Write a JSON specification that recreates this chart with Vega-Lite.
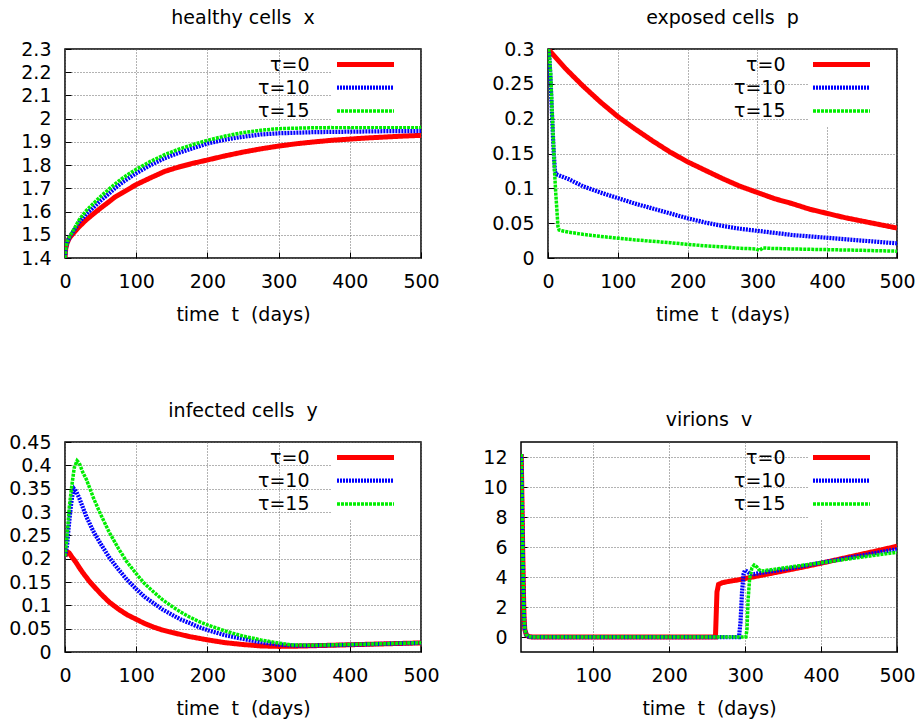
{
  "$schema": "https://vega.github.io/schema/vega-lite/v6.json",
  "padding": {"left": 7, "top": 8, "right": 0, "bottom": 0},
  "background": "white",
  "config": {
    "font": "DejaVu Sans",
    "view": {"stroke": "#000", "strokeWidth": 1.5},
    "axis": {
      "labelFont": "DejaVu Sans", "labelFontSize": 19, "labelColor": "#000",
      "titleFont": "DejaVu Sans", "titleFontSize": 19, "titleFontWeight": "normal", "titleColor": "#000",
      "domain": false, "ticks": true, "tickSize": -6, "tickColor": "#000", "tickWidth": 1,
      "labelPadding": 20, "titlePadding": 14, "labelFlush": false,
      "grid": true, "gridColor": "#666", "gridDash": [1, 2], "gridWidth": 1,
      "labelOverlap": false
    },
    "title": {"font": "DejaVu Sans", "fontSize": 19, "fontWeight": "normal", "color": "#000", "anchor": "middle", "frame": "group", "offset": 12},
    "legend": {
      "orient": "top-right", "offset": 1, "padding": 4.5,
      "labelFont": "DejaVu Sans", "labelFontSize": 19, "labelColor": "#000",
      "symbolType": "M-4,0H4", "symbolSize": 203, "symbolOffset": 19,
      "labelAlign": "right", "labelOffset": -66, "rowPadding": 3.5,
      "titleOrient": "right", "titlePadding": 12, "titleFontSize": 19, "titleFont": "DejaVu Sans",
      "fillColor": "#ffffff", "labelLimit": 300
    },
    "line": {"clip": true}
  },
  "datasets": {
    "hx": [
      {"t":0,"tau":"τ=0","val":1.40},{"t":1,"tau":"τ=0","val":1.44},{"t":3,"tau":"τ=0","val":1.465},{"t":6,"tau":"τ=0","val":1.485},{"t":10,"tau":"τ=0","val":1.50},{"t":20,"tau":"τ=0","val":1.535},{"t":30,"tau":"τ=0","val":1.565},{"t":40,"tau":"τ=0","val":1.59},{"t":50,"tau":"τ=0","val":1.615},{"t":60,"tau":"τ=0","val":1.638},{"t":70,"tau":"τ=0","val":1.662},{"t":80,"tau":"τ=0","val":1.68},{"t":90,"tau":"τ=0","val":1.698},{"t":100,"tau":"τ=0","val":1.716},{"t":120,"tau":"τ=0","val":1.745},{"t":140,"tau":"τ=0","val":1.773},{"t":160,"tau":"τ=0","val":1.792},{"t":180,"tau":"τ=0","val":1.808},{"t":200,"tau":"τ=0","val":1.822},{"t":225,"tau":"τ=0","val":1.84},{"t":250,"tau":"τ=0","val":1.856},{"t":275,"tau":"τ=0","val":1.87},{"t":300,"tau":"τ=0","val":1.882},{"t":325,"tau":"τ=0","val":1.892},{"t":350,"tau":"τ=0","val":1.9},{"t":375,"tau":"τ=0","val":1.907},{"t":400,"tau":"τ=0","val":1.912},{"t":425,"tau":"τ=0","val":1.917},{"t":450,"tau":"τ=0","val":1.921},{"t":475,"tau":"τ=0","val":1.925},{"t":500,"tau":"τ=0","val":1.928},
      {"t":0,"tau":"τ=10","val":1.40},{"t":1,"tau":"τ=10","val":1.44},{"t":3,"tau":"τ=10","val":1.465},{"t":6,"tau":"τ=10","val":1.488},{"t":10,"tau":"τ=10","val":1.507},{"t":20,"tau":"τ=10","val":1.555},{"t":30,"tau":"τ=10","val":1.59},{"t":40,"tau":"τ=10","val":1.618},{"t":50,"tau":"τ=10","val":1.647},{"t":60,"tau":"τ=10","val":1.673},{"t":70,"tau":"τ=10","val":1.70},{"t":80,"tau":"τ=10","val":1.724},{"t":90,"tau":"τ=10","val":1.745},{"t":100,"tau":"τ=10","val":1.765},{"t":120,"tau":"τ=10","val":1.80},{"t":140,"tau":"τ=10","val":1.83},{"t":160,"tau":"τ=10","val":1.853},{"t":180,"tau":"τ=10","val":1.873},{"t":200,"tau":"τ=10","val":1.893},{"t":225,"tau":"τ=10","val":1.91},{"t":250,"tau":"τ=10","val":1.922},{"t":275,"tau":"τ=10","val":1.932},{"t":300,"tau":"τ=10","val":1.937},{"t":350,"tau":"τ=10","val":1.942},{"t":400,"tau":"τ=10","val":1.944},{"t":450,"tau":"τ=10","val":1.946},{"t":500,"tau":"τ=10","val":1.947},
      {"t":0,"tau":"τ=15","val":1.40},{"t":1,"tau":"τ=15","val":1.44},{"t":3,"tau":"τ=15","val":1.47},{"t":6,"tau":"τ=15","val":1.49},{"t":10,"tau":"τ=15","val":1.51},{"t":20,"tau":"τ=15","val":1.565},{"t":30,"tau":"τ=15","val":1.605},{"t":40,"tau":"τ=15","val":1.635},{"t":50,"tau":"τ=15","val":1.665},{"t":60,"tau":"τ=15","val":1.692},{"t":70,"tau":"τ=15","val":1.718},{"t":80,"tau":"τ=15","val":1.742},{"t":90,"tau":"τ=15","val":1.763},{"t":100,"tau":"τ=15","val":1.782},{"t":120,"tau":"τ=15","val":1.816},{"t":140,"tau":"τ=15","val":1.845},{"t":160,"tau":"τ=15","val":1.869},{"t":180,"tau":"τ=15","val":1.889},{"t":200,"tau":"τ=15","val":1.907},{"t":225,"tau":"τ=15","val":1.925},{"t":250,"tau":"τ=15","val":1.94},{"t":275,"tau":"τ=15","val":1.95},{"t":300,"tau":"τ=15","val":1.957},{"t":350,"tau":"τ=15","val":1.961},{"t":400,"tau":"τ=15","val":1.962},{"t":450,"tau":"τ=15","val":1.963},{"t":500,"tau":"τ=15","val":1.963}
    ],
    "hp": [
      {"t":0,"tau":"τ=0","val":0.300},{"t":25,"tau":"τ=0","val":0.272},{"t":50,"tau":"τ=0","val":0.247},{"t":75,"tau":"τ=0","val":0.224},{"t":100,"tau":"τ=0","val":0.203},{"t":125,"tau":"τ=0","val":0.185},{"t":150,"tau":"τ=0","val":0.168},{"t":175,"tau":"τ=0","val":0.152},{"t":200,"tau":"τ=0","val":0.138},{"t":225,"tau":"τ=0","val":0.126},{"t":250,"tau":"τ=0","val":0.114},{"t":275,"tau":"τ=0","val":0.103},{"t":300,"tau":"τ=0","val":0.094},{"t":325,"tau":"τ=0","val":0.085},{"t":350,"tau":"τ=0","val":0.078},{"t":375,"tau":"τ=0","val":0.070},{"t":400,"tau":"τ=0","val":0.064},{"t":425,"tau":"τ=0","val":0.058},{"t":450,"tau":"τ=0","val":0.053},{"t":475,"tau":"τ=0","val":0.048},{"t":500,"tau":"τ=0","val":0.043},
      {"t":0,"tau":"τ=10","val":0.300},{"t":1.5,"tau":"τ=10","val":0.295},{"t":3.5,"tau":"τ=10","val":0.26},{"t":6,"tau":"τ=10","val":0.20},{"t":8,"tau":"τ=10","val":0.155},{"t":10,"tau":"τ=10","val":0.124},{"t":12,"tau":"τ=10","val":0.12},{"t":20,"tau":"τ=10","val":0.117},{"t":30,"tau":"τ=10","val":0.113},{"t":50,"tau":"τ=10","val":0.103},{"t":75,"tau":"τ=10","val":0.094},{"t":100,"tau":"τ=10","val":0.086},{"t":125,"tau":"τ=10","val":0.078},{"t":150,"tau":"τ=10","val":0.071},{"t":175,"tau":"τ=10","val":0.064},{"t":200,"tau":"τ=10","val":0.057},{"t":225,"tau":"τ=10","val":0.051},{"t":250,"tau":"τ=10","val":0.046},{"t":275,"tau":"τ=10","val":0.042},{"t":300,"tau":"τ=10","val":0.039},{"t":325,"tau":"τ=10","val":0.036},{"t":350,"tau":"τ=10","val":0.033},{"t":375,"tau":"τ=10","val":0.031},{"t":400,"tau":"τ=10","val":0.029},{"t":425,"tau":"τ=10","val":0.027},{"t":450,"tau":"τ=10","val":0.025},{"t":475,"tau":"τ=10","val":0.023},{"t":500,"tau":"τ=10","val":0.021},
      {"t":0,"tau":"τ=15","val":0.300},{"t":1.5,"tau":"τ=15","val":0.297},{"t":3.8,"tau":"τ=15","val":0.265},{"t":5.5,"tau":"τ=15","val":0.22},{"t":7.6,"tau":"τ=15","val":0.17},{"t":9.5,"tau":"τ=15","val":0.122},{"t":11,"tau":"τ=15","val":0.095},{"t":12.4,"tau":"τ=15","val":0.074},{"t":14.3,"tau":"τ=15","val":0.045},{"t":16,"tau":"τ=15","val":0.040},{"t":20,"tau":"τ=15","val":0.039},{"t":30,"tau":"τ=15","val":0.037},{"t":50,"tau":"τ=15","val":0.034},{"t":75,"tau":"τ=15","val":0.031},{"t":100,"tau":"τ=15","val":0.0285},{"t":125,"tau":"τ=15","val":0.026},{"t":150,"tau":"τ=15","val":0.024},{"t":175,"tau":"τ=15","val":0.022},{"t":200,"tau":"τ=15","val":0.0195},{"t":225,"tau":"τ=15","val":0.0175},{"t":250,"tau":"τ=15","val":0.016},{"t":275,"tau":"τ=15","val":0.014},{"t":298,"tau":"τ=15","val":0.013},{"t":303,"tau":"τ=15","val":0.011},{"t":308,"tau":"τ=15","val":0.0145},{"t":320,"tau":"τ=15","val":0.0138},{"t":350,"tau":"τ=15","val":0.013},{"t":400,"tau":"τ=15","val":0.012},{"t":450,"tau":"τ=15","val":0.011},{"t":500,"tau":"τ=15","val":0.0098}
    ],
    "hy": [
      {"t":0,"tau":"τ=0","val":0.205},{"t":3,"tau":"τ=0","val":0.215},{"t":6,"tau":"τ=0","val":0.212},{"t":10,"tau":"τ=0","val":0.203},{"t":15,"tau":"τ=0","val":0.193},{"t":20,"tau":"τ=0","val":0.181},{"t":25,"tau":"τ=0","val":0.17},{"t":35,"tau":"τ=0","val":0.15},{"t":50,"tau":"τ=0","val":0.125},{"t":62,"tau":"τ=0","val":0.107},{"t":75,"tau":"τ=0","val":0.092},{"t":87,"tau":"τ=0","val":0.08},{"t":100,"tau":"τ=0","val":0.07},{"t":112,"tau":"τ=0","val":0.061},{"t":125,"tau":"τ=0","val":0.053},{"t":137,"tau":"τ=0","val":0.047},{"t":150,"tau":"τ=0","val":0.042},{"t":175,"tau":"τ=0","val":0.033},{"t":200,"tau":"τ=0","val":0.026},{"t":225,"tau":"τ=0","val":0.02},{"t":250,"tau":"τ=0","val":0.016},{"t":275,"tau":"τ=0","val":0.013},{"t":300,"tau":"τ=0","val":0.012},{"t":325,"tau":"τ=0","val":0.0125},{"t":350,"tau":"τ=0","val":0.0135},{"t":375,"tau":"τ=0","val":0.0145},{"t":400,"tau":"τ=0","val":0.0155},{"t":425,"tau":"τ=0","val":0.0165},{"t":450,"tau":"τ=0","val":0.0175},{"t":475,"tau":"τ=0","val":0.0185},{"t":500,"tau":"τ=0","val":0.0195},
      {"t":0,"tau":"τ=10","val":0.205},{"t":3,"tau":"τ=10","val":0.23},{"t":5,"tau":"τ=10","val":0.265},{"t":8,"tau":"τ=10","val":0.31},{"t":10,"tau":"τ=10","val":0.333},{"t":13,"tau":"τ=10","val":0.349},{"t":16,"tau":"τ=10","val":0.343},{"t":20,"tau":"τ=10","val":0.33},{"t":25,"tau":"τ=10","val":0.31},{"t":30,"tau":"τ=10","val":0.29},{"t":40,"tau":"τ=10","val":0.258},{"t":50,"tau":"τ=10","val":0.232},{"t":62,"tau":"τ=10","val":0.203},{"t":75,"tau":"τ=10","val":0.177},{"t":87,"tau":"τ=10","val":0.155},{"t":100,"tau":"τ=10","val":0.135},{"t":112,"tau":"τ=10","val":0.118},{"t":125,"tau":"τ=10","val":0.104},{"t":137,"tau":"τ=10","val":0.091},{"t":150,"tau":"τ=10","val":0.08},{"t":162,"tau":"τ=10","val":0.07},{"t":175,"tau":"τ=10","val":0.062},{"t":187,"tau":"τ=10","val":0.054},{"t":200,"tau":"τ=10","val":0.047},{"t":225,"tau":"τ=10","val":0.036},{"t":250,"tau":"τ=10","val":0.028},{"t":275,"tau":"τ=10","val":0.021},{"t":300,"tau":"τ=10","val":0.016},{"t":325,"tau":"τ=10","val":0.0138},{"t":350,"tau":"τ=10","val":0.0138},{"t":400,"tau":"τ=10","val":0.0155},{"t":450,"tau":"τ=10","val":0.0175},{"t":500,"tau":"τ=10","val":0.0195},
      {"t":0,"tau":"τ=15","val":0.205},{"t":3,"tau":"τ=15","val":0.25},{"t":6,"tau":"τ=15","val":0.31},{"t":9,"tau":"τ=15","val":0.35},{"t":13,"tau":"τ=15","val":0.395},{"t":17,"tau":"τ=15","val":0.41},{"t":20,"tau":"τ=15","val":0.405},{"t":25,"tau":"τ=15","val":0.385},{"t":30,"tau":"τ=15","val":0.37},{"t":40,"tau":"τ=15","val":0.33},{"t":50,"tau":"τ=15","val":0.295},{"t":62,"tau":"τ=15","val":0.257},{"t":75,"tau":"τ=15","val":0.222},{"t":87,"tau":"τ=15","val":0.193},{"t":100,"tau":"τ=15","val":0.168},{"t":112,"tau":"τ=15","val":0.146},{"t":125,"tau":"τ=15","val":0.128},{"t":137,"tau":"τ=15","val":0.112},{"t":150,"tau":"τ=15","val":0.098},{"t":162,"tau":"τ=15","val":0.086},{"t":175,"tau":"τ=15","val":0.075},{"t":187,"tau":"τ=15","val":0.066},{"t":200,"tau":"τ=15","val":0.058},{"t":225,"tau":"τ=15","val":0.045},{"t":250,"tau":"τ=15","val":0.034},{"t":275,"tau":"τ=15","val":0.026},{"t":300,"tau":"τ=15","val":0.019},{"t":320,"tau":"τ=15","val":0.015},{"t":350,"tau":"τ=15","val":0.0145},{"t":400,"tau":"τ=15","val":0.016},{"t":450,"tau":"τ=15","val":0.0178},{"t":500,"tau":"τ=15","val":0.0198}
    ],
    "hv": [
      {"t":5.3,"tau":"τ=0","val":12.2},{"t":6,"tau":"τ=0","val":10},{"t":7,"tau":"τ=0","val":6.6},{"t":8,"tau":"τ=0","val":3.5},{"t":9,"tau":"τ=0","val":1.3},{"t":10,"tau":"τ=0","val":0.5},{"t":12,"tau":"τ=0","val":0.15},{"t":15,"tau":"τ=0","val":0.03},{"t":20,"tau":"τ=0","val":0},{"t":100,"tau":"τ=0","val":0},{"t":200,"tau":"τ=0","val":0},{"t":261,"tau":"τ=0","val":0},{"t":262,"tau":"τ=0","val":1.5},{"t":263,"tau":"τ=0","val":3.0},{"t":265,"tau":"τ=0","val":3.5},{"t":270,"tau":"τ=0","val":3.62},{"t":280,"tau":"τ=0","val":3.72},{"t":290,"tau":"τ=0","val":3.8},{"t":300,"tau":"τ=0","val":3.9},{"t":325,"tau":"τ=0","val":4.15},{"t":350,"tau":"τ=0","val":4.4},{"t":375,"tau":"τ=0","val":4.65},{"t":400,"tau":"τ=0","val":4.92},{"t":425,"tau":"τ=0","val":5.2},{"t":450,"tau":"τ=0","val":5.48},{"t":475,"tau":"τ=0","val":5.76},{"t":500,"tau":"τ=0","val":6.05},
      {"t":5.3,"tau":"τ=10","val":12.2},{"t":6,"tau":"τ=10","val":10},{"t":7,"tau":"τ=10","val":6.6},{"t":8,"tau":"τ=10","val":3.5},{"t":9,"tau":"τ=10","val":1.3},{"t":10,"tau":"τ=10","val":0.5},{"t":12,"tau":"τ=10","val":0.15},{"t":15,"tau":"τ=10","val":0.03},{"t":20,"tau":"τ=10","val":0},{"t":100,"tau":"τ=10","val":0},{"t":200,"tau":"τ=10","val":0},{"t":292,"tau":"τ=10","val":0},{"t":294,"tau":"τ=10","val":1.0},{"t":296,"tau":"τ=10","val":3.0},{"t":298,"tau":"τ=10","val":4.2},{"t":300,"tau":"τ=10","val":4.45},{"t":303,"tau":"τ=10","val":4.35},{"t":307,"tau":"τ=10","val":4.2},{"t":312,"tau":"τ=10","val":4.2},{"t":320,"tau":"τ=10","val":4.27},{"t":350,"tau":"τ=10","val":4.5},{"t":400,"tau":"τ=10","val":4.95},{"t":450,"tau":"τ=10","val":5.4},{"t":500,"tau":"τ=10","val":5.85},
      {"t":5.3,"tau":"τ=15","val":12.2},{"t":6,"tau":"τ=15","val":10},{"t":7,"tau":"τ=15","val":6.6},{"t":8,"tau":"τ=15","val":3.5},{"t":9,"tau":"τ=15","val":1.3},{"t":10,"tau":"τ=15","val":0.5},{"t":12,"tau":"τ=15","val":0.15},{"t":15,"tau":"τ=15","val":0.03},{"t":20,"tau":"τ=15","val":0},{"t":100,"tau":"τ=15","val":0},{"t":200,"tau":"τ=15","val":0},{"t":301,"tau":"τ=15","val":0},{"t":302.5,"tau":"τ=15","val":0.5},{"t":304,"tau":"τ=15","val":2.5},{"t":306,"tau":"τ=15","val":3.9},{"t":309,"tau":"τ=15","val":4.6},{"t":312,"tau":"τ=15","val":4.8},{"t":315,"tau":"τ=15","val":4.7},{"t":318,"tau":"τ=15","val":4.5},{"t":322,"tau":"τ=15","val":4.4},{"t":350,"tau":"τ=15","val":4.6},{"t":400,"tau":"τ=15","val":4.95},{"t":450,"tau":"τ=15","val":5.3},{"t":500,"tau":"τ=15","val":5.65}
    ]
  },
  "resolve": {"scale": {"color": "independent", "strokeDash": "independent", "strokeWidth": "independent"}, "legend": {"color": "independent", "strokeDash": "independent", "strokeWidth": "independent"}},
  "spacing": 76,
  "vconcat": [
    {
      "spacing": 50,
      "resolve": {"scale": {"color": "independent", "strokeDash": "independent", "strokeWidth": "independent"}, "legend": {"color": "independent", "strokeDash": "independent", "strokeWidth": "independent"}},
      "hconcat": [
        {
          "width": 356, "height": 209,
          "title": {"text": "healthy cells\u00a0\u00a0x"},
          "data": {"name": "hx"},
          "mark": {"type": "line", "clip": true},
          "encoding": {
            "x": {"field": "t", "type": "quantitative", "scale": {"domain": [0, 500], "nice": false}, "axis": {"values": [0, 100, 200, 300, 400, 500], "title": "time\u00a0\u00a0t\u00a0\u00a0(days)"}},
            "y": {"field": "val", "type": "quantitative", "scale": {"domain": [1.4, 2.3], "nice": false, "zero": false}, "axis": {"values": [1.4, 1.5, 1.6, 1.7, 1.8, 1.9, 2, 2.1, 2.2, 2.3], "format": "~g", "title": null}},
            "color": {"field": "tau", "type": "nominal", "scale": {"domain": ["τ=0", "τ=10", "τ=15"], "range": ["#ff0000", "#0000ff", "#00ee00"]}, "legend": {"title": "\u00a0"}},
            "strokeDash": {"field": "tau", "type": "nominal", "scale": {"domain": ["τ=0", "τ=10", "τ=15"], "range": [[1, 0], [2, 1], [3, 1]]}, "legend": {"title": "\u00a0"}},
            "strokeWidth": {"field": "tau", "type": "nominal", "scale": {"domain": ["τ=0", "τ=10", "τ=15"], "range": [5, 3.5, 4.5]}, "legend": {"title": "\u00a0"}}
          }
        },
        {
          "width": 349, "height": 209,
          "title": {"text": "exposed cells\u00a0\u00a0p"},
          "data": {"name": "hp"},
          "mark": {"type": "line", "clip": true},
          "encoding": {
            "x": {"field": "t", "type": "quantitative", "scale": {"domain": [0, 500], "nice": false}, "axis": {"values": [0, 100, 200, 300, 400, 500], "title": "time\u00a0\u00a0t\u00a0\u00a0(days)"}},
            "y": {"field": "val", "type": "quantitative", "scale": {"domain": [0, 0.3], "nice": false}, "axis": {"values": [0, 0.05, 0.1, 0.15, 0.2, 0.25, 0.3], "format": "~g", "title": null}},
            "color": {"field": "tau", "type": "nominal", "scale": {"domain": ["τ=0", "τ=10", "τ=15"], "range": ["#ff0000", "#0000ff", "#00ee00"]}, "legend": {"title": "\u00a0"}},
            "strokeDash": {"field": "tau", "type": "nominal", "scale": {"domain": ["τ=0", "τ=10", "τ=15"], "range": [[1, 0], [2, 1], [3, 1]]}, "legend": {"title": "\u00a0"}},
            "strokeWidth": {"field": "tau", "type": "nominal", "scale": {"domain": ["τ=0", "τ=10", "τ=15"], "range": [5, 3.5, 4.5]}, "legend": {"title": "\u00a0"}}
          }
        }
      ]
    },
    {
      "spacing": 42,
      "resolve": {"scale": {"color": "independent", "strokeDash": "independent", "strokeWidth": "independent"}, "legend": {"color": "independent", "strokeDash": "independent", "strokeWidth": "independent"}},
      "hconcat": [
        {
          "width": 356, "height": 210,
          "title": {"text": "infected cells\u00a0\u00a0y"},
          "data": {"name": "hy"},
          "mark": {"type": "line", "clip": true},
          "encoding": {
            "x": {"field": "t", "type": "quantitative", "scale": {"domain": [0, 500], "nice": false}, "axis": {"values": [0, 100, 200, 300, 400, 500], "title": "time\u00a0\u00a0t\u00a0\u00a0(days)"}},
            "y": {"field": "val", "type": "quantitative", "scale": {"domain": [0, 0.45], "nice": false}, "axis": {"values": [0, 0.05, 0.1, 0.15, 0.2, 0.25, 0.3, 0.35, 0.4, 0.45], "format": "~g", "title": null}},
            "color": {"field": "tau", "type": "nominal", "scale": {"domain": ["τ=0", "τ=10", "τ=15"], "range": ["#ff0000", "#0000ff", "#00ee00"]}, "legend": {"title": "\u00a0"}},
            "strokeDash": {"field": "tau", "type": "nominal", "scale": {"domain": ["τ=0", "τ=10", "τ=15"], "range": [[1, 0], [2, 1], [3, 1]]}, "legend": {"title": "\u00a0"}},
            "strokeWidth": {"field": "tau", "type": "nominal", "scale": {"domain": ["τ=0", "τ=10", "τ=15"], "range": [5, 3.5, 4.5]}, "legend": {"title": "\u00a0"}}
          }
        },
        {
          "width": 376, "height": 210,
          "title": {"text": "virions\u00a0\u00a0v"},
          "data": {"name": "hv"},
          "mark": {"type": "line", "clip": true},
          "encoding": {
            "x": {"field": "t", "type": "quantitative", "scale": {"domain": [5, 500], "nice": false, "zero": false}, "axis": {"values": [100, 200, 300, 400, 500], "title": "time\u00a0\u00a0t\u00a0\u00a0(days)"}},
            "y": {"field": "val", "type": "quantitative", "scale": {"domain": [-1, 13], "nice": false}, "axis": {"values": [0, 2, 4, 6, 8, 10, 12], "format": "~g", "title": null}},
            "color": {"field": "tau", "type": "nominal", "scale": {"domain": ["τ=0", "τ=10", "τ=15"], "range": ["#ff0000", "#0000ff", "#00ee00"]}, "legend": {"title": "\u00a0"}},
            "strokeDash": {"field": "tau", "type": "nominal", "scale": {"domain": ["τ=0", "τ=10", "τ=15"], "range": [[1, 0], [2, 1], [3, 1]]}, "legend": {"title": "\u00a0"}},
            "strokeWidth": {"field": "tau", "type": "nominal", "scale": {"domain": ["τ=0", "τ=10", "τ=15"], "range": [5, 3.5, 4.5]}, "legend": {"title": "\u00a0"}}
          }
        }
      ]
    }
  ]
}
